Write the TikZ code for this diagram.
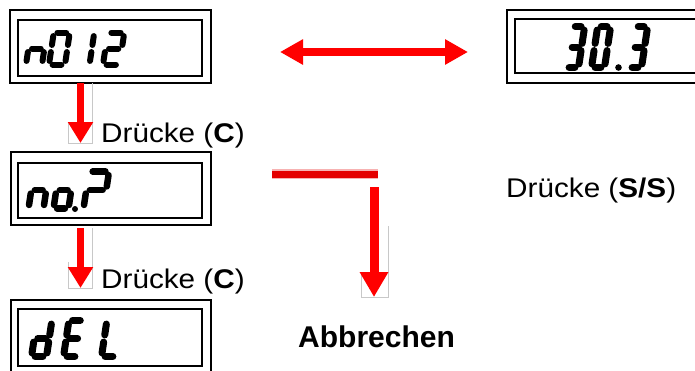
\documentclass[tikz,border=0pt]{standalone}
\usepackage{fontspec}
\setmainfont{Liberation Sans}
\newfontfamily\lblfont{Liberation Sans}[FakeStretch=1.1]
\usetikzlibrary{arrows.meta,calc}
\definecolor{arrred}{RGB}{255,0,0}
\definecolor{barred}{RGB}{228,0,0}
\definecolor{framegray}{RGB}{200,200,200}
\tikzset{
  frame/.style={draw=black, line width=2pt, inner sep=0pt, outer sep=0pt},
  seg/.style={line width=\segT pt, line cap=round, shorten <=3.6pt, shorten >=3.6pt},
  downarr/.style={draw=arrred, line width=7pt, -{Triangle[width=24pt,length=21pt]}},
  bigdown/.style={draw=arrred, line width=9pt, -{Triangle[width=27pt,length=25pt]}},
  dblarr/.style={draw=arrred, line width=8pt, {Triangle[width=24pt,length=23pt]}-{Triangle[width=24pt,length=23pt]}},
  imgframe/.style={draw=framegray, line width=0.7pt},
  lbl/.style={anchor=base west, inner sep=0pt, font=\lblfont\fontsize{27}{32}\selectfont},
}
\newcommand\sevseg[6]{%
  \begin{scope}[shift={(#1,#2)},xslant=0.15]
    \def\segW{#3}\def\segH{#4}\def\segT{#5}%
    \foreach \s in {#6}{\csname sg\s\endcsname}
  \end{scope}}
\newcommand\sgA{\draw[seg] (0,-\segH) -- (\segW,-\segH);}
\newcommand\sgB{\draw[seg] (\segW,-\segH) -- (\segW,-\segH/2);}
\newcommand\sgC{\draw[seg] (\segW,-\segH/2) -- (\segW,0);}
\newcommand\sgD{\draw[seg] (0,0) -- (\segW,0);}
\newcommand\sgE{\draw[seg] (0,-\segH/2) -- (0,0);}
\newcommand\sgF{\draw[seg] (0,-\segH) -- (0,-\segH/2);}
\newcommand\sgG{\draw[seg] (0,-\segH/2) -- (\segW,-\segH/2);}
\begin{document}
\begin{tikzpicture}[x=1pt,y=-1pt]
  \useasboundingbox (0,0) rectangle (695,370);
  \clip (0,0) rectangle (695,370);

  % display frames
  \node[frame, minimum width=201pt, minimum height=73pt] (box1) at (110.5,46.5) {};
  \node[frame, minimum width=184pt, minimum height=56pt] (in1) at (110,48) {};
  \node[frame, minimum width=213pt, minimum height=73pt] (box2) at (613.5,46.5) {};
  \node[frame, minimum width=205pt, minimum height=54pt] (in2) at (617.5,46) {};
  \node[frame, minimum width=200pt, minimum height=73pt] (box3) at (111,188.5) {};
  \node[frame, minimum width=184pt, minimum height=55pt] (in3) at (110,190.5) {};
  \node[frame, minimum width=200pt, minimum height=73pt] (box4) at (111,336.5) {};
  \node[frame, minimum width=184pt, minimum height=57pt] (in4) at (110,337.5) {};

  % display digits: n0 12
  \sevseg{26}{64.5}{16}{32}{6}{C,E,G}
  \sevseg{49}{64.5}{16}{32}{6}{A,B,C,D,E,F}
  \sevseg{73.5}{64.5}{16}{32}{6}{B,C}
  \sevseg{103}{64.5}{16.5}{32}{6}{A,B,G,E,D}
  % 30.3
  \sevseg{565.5}{67.5}{13}{41}{7}{A,B,G,C,D}
  \sevseg{591.5}{67.5}{13}{41}{7}{A,B,C,D,E,F}
  \fill (618.5,67.5) circle (3.3pt);
  \sevseg{628.5}{67.5}{13}{41}{7}{A,B,G,C,D}
  % no.?
  \sevseg{28.5}{208.5}{15}{37}{6.5}{C,E,G}
  \sevseg{53.5}{208.5}{15}{37}{6.5}{C,D,E,G}
  \fill (75,209) circle (3pt);
  \sevseg{83.5}{208.5}{20}{37}{6.5}{A,B,G,E}
  % dEL
  \sevseg{31.5}{356.5}{15}{36}{7}{B,C,D,E,G}
  \sevseg{63.5}{356.5}{15}{36}{7}{A,D,E,F,G}
  \sevseg{101.5}{356.5}{15}{36}{7}{D,E,F}

  % arrows between displays
  \coordinate (a1s) at (80.5,83);
  \coordinate (a1e) at (80.5,143);
  \draw[imgframe] (68,122) -- (68,143) -- (92,143) -- (92,83);
  \draw[downarr] (a1s) -- (a1e);

  \coordinate (a2s) at (80.5,228);
  \coordinate (a2e) at (80.5,288);
  \draw[imgframe] (68,262) -- (68,288) -- (92,288) -- (92,228);
  \draw[downarr] (a2s) -- (a2e);

  \coordinate (dl) at (280,52);
  \coordinate (dr) at (468,52);
  \draw[dblarr] (dl) -- (dr);

  % Abbrechen branch
  \coordinate (hb1) at (272,174);
  \coordinate (hb2) at (378,174);
  \draw[barred!30, line width=10pt] (hb1) -- (hb2);
  \draw[barred, line width=7pt] (hb1) -- (hb2);
  \coordinate (vs) at (374,187);
  \coordinate (ve) at (374,297);
  \draw[imgframe] (361,272) -- (361,297) -- (388,297) -- (388,226);
  \draw[bigdown] (vs) -- (ve);

  % labels
  \node[lbl] (t1) at (101,142) {Drücke (\textbf{C})};
  \node[lbl] (t2) at (101,288) {Drücke (\textbf{C})};
  \node[lbl] (t3) at (506,197) {Drücke (\textbf{S/S})};
  \node[anchor=base west, inner sep=0pt, font=\bfseries\fontsize{30}{36}\selectfont] (t4) at (298,347) {Abbrechen};
\end{tikzpicture}
\end{document}
